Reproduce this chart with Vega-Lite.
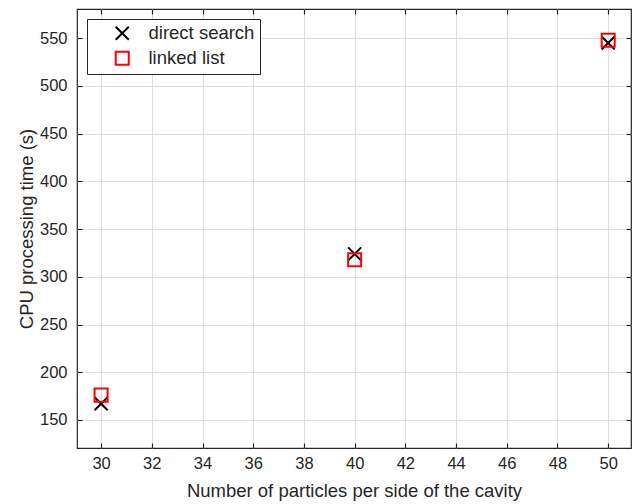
{
  "$schema": "https://vega.github.io/schema/vega-lite/v6.json",
  "width": 554,
  "height": 439,
  "autosize": {"type": "none"},
  "padding": {"left": 77, "top": 9, "right": 5, "bottom": 56},
  "background": "white",
  "config": {
    "font": "Liberation Sans",
    "view": {"stroke": "#262626", "strokeWidth": 1.2},
    "axis": {
      "labelFont": "Liberation Sans",
      "titleFont": "Liberation Sans",
      "labelFontSize": 16.5,
      "titleFontSize": 18.5,
      "labelColor": "#262626",
      "titleColor": "#262626",
      "titleFontWeight": "normal",
      "gridColor": "#dedede",
      "gridWidth": 1,
      "domain": false,
      "tickColor": "#262626",
      "tickSize": -5,
      "tickWidth": 1.2
    },
    "legend": {
      "title": null,
      "orient": "top-left",
      "offset": 10,
      "strokeColor": "#262626",
      "fillColor": "white",
      "padding": 5,
      "labelFontSize": 18.5,
      "labelFont": "Liberation Sans",
      "labelColor": "#262626",
      "symbolSize": 170,
      "symbolStrokeWidth": 2,
      "labelOffset": 17,
      "rowPadding": 3,
      "symbolOffset": 21
    }
  },
  "data": {
    "values": [
      {"n": 30, "time": 167, "method": "direct search"},
      {"n": 40, "time": 324, "method": "direct search"},
      {"n": 50, "time": 545, "method": "direct search"},
      {"n": 30, "time": 176, "method": "linked list"},
      {"n": 40, "time": 318, "method": "linked list"},
      {"n": 50, "time": 548, "method": "linked list"}
    ]
  },
  "resolve": {"axis": {"x": "independent", "y": "independent"}},
  "layer": [
    {
      "mark": {"type": "point", "filled": false, "strokeWidth": 2, "size": 170, "opacity": 1},
      "encoding": {
        "x": {
          "field": "n", "type": "quantitative",
          "scale": {"domain": [29.05, 50.9], "nice": false, "zero": false},
          "axis": {
            "orient": "bottom",
            "grid": true,
            "values": [30, 32, 34, 36, 38, 40, 42, 44, 46, 48, 50],
            "title": "Number of particles per side of the cavity",
            "labelPadding": 12,
            "titlePadding": 10
          }
        },
        "y": {
          "field": "time", "type": "quantitative",
          "scale": {"domain": [120.6, 580.7], "nice": false, "zero": false},
          "axis": {
            "orient": "left",
            "grid": true,
            "values": [150, 200, 250, 300, 350, 400, 450, 500, 550],
            "title": "CPU processing time (s)",
            "labelPadding": 15,
            "titlePadding": 3
          }
        },
        "shape": {
          "field": "method", "type": "nominal",
          "scale": {"domain": ["direct search", "linked list"], "range": ["M-1,-1L1,1M1,-1L-1,1", "square"]},
          "legend": {}
        },
        "color": {
          "field": "method", "type": "nominal",
          "scale": {"domain": ["direct search", "linked list"], "range": ["black", "red"]},
          "legend": {}
        }
      }
    },
    {
      "mark": {"type": "point", "filled": false, "opacity": 0},
      "encoding": {
        "x": {
          "field": "n", "type": "quantitative",
          "scale": {"domain": [29.05, 50.9], "nice": false, "zero": false},
          "axis": {"orient": "top", "values": [30, 32, 34, 36, 38, 40, 42, 44, 46, 48, 50], "labels": false, "grid": false, "title": null}
        },
        "y": {
          "field": "time", "type": "quantitative",
          "scale": {"domain": [120.6, 580.7], "nice": false, "zero": false},
          "axis": {"orient": "right", "values": [150, 200, 250, 300, 350, 400, 450, 500, 550], "labels": false, "grid": false, "title": null}
        }
      }
    }
  ]
}
